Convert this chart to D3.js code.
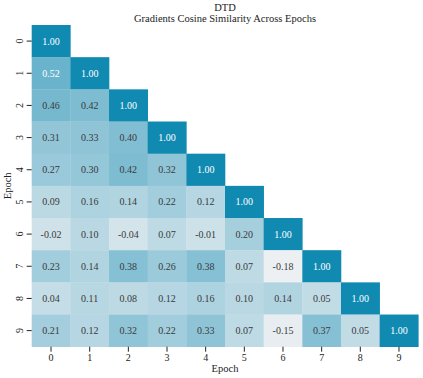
<!DOCTYPE html>
<html>
<head>
<meta charset="utf-8">
<script src="https://cdn.jsdelivr.net/npm/d3@7"></script>
<style>
  body { margin: 0; background: #fff; }
</style>
</head>
<body>
<div class="container"></div>
<script>
// epochs on both axes
const epochs = ['0', '1', '2', '3', '4', '5', '6', '7', '8', '9'];

// lower triangle of the similarity matrix, row by row
const row0 = [1.00];
const row1 = [0.52, 1.00];
const row2 = [0.46, 0.42, 1.00];
const row3 = [0.31, 0.33, 0.40, 1.00];
const row4 = [0.27, 0.30, 0.42, 0.32, 1.00];
const row5 = [0.09, 0.16, 0.14, 0.22, 0.12, 1.00];
const row6 = [-0.02, 0.10, -0.04, 0.07, -0.01, 0.20, 1.00];
const row7 = [0.23, 0.14, 0.38, 0.26, 0.38, 0.07, -0.18, 1.00];
const row8 = [0.04, 0.11, 0.08, 0.12, 0.16, 0.10, 0.14, 0.05, 1.00];
const row9 = [0.21, 0.12, 0.32, 0.22, 0.33, 0.07, -0.15, 0.37, 0.05, 1.00];
const rows = [row0, row1, row2, row3, row4, row5, row6, row7, row8, row9];

const title = 'DTD';
const subtitle = 'Gradients Cosine Similarity Across Epochs';

const width = 423;
const height = 378;
const margin = { top: 25, right: 4.7, bottom: 31.3, left: 31.7 };
const font = "'Liberation Serif', 'Times New Roman', serif";

const cells = [];
rows.forEach((r, i) => {
  r.forEach((v, j) => cells.push({ row: epochs[i], col: epochs[j], value: v }));
});

const svg = d3
  .select('.container')
  .append('svg')
  .attr('width', width)
  .attr('height', height);

const graph = svg
  .append('g')
  .attr('transform', `translate(${margin.left}, ${margin.top})`);

const innerW = width - margin.left - margin.right;
const innerH = height - margin.top - margin.bottom;

const x = d3.scaleBand().domain(epochs).range([0, innerW]);
const y = d3.scaleBand().domain(epochs).range([0, innerH]);

const vmin = d3.min(cells, d => d.value);
const color = d3
  .scaleLinear()
  .domain([vmin, 1])
  .range(['#edf0f2', '#118ab2'])
  .interpolate(d3.interpolateRgb);

// seaborn-like text colour: dark on light cells, white on dark
const luminance = c => {
  const rgb = d3.rgb(c);
  const f = v => {
    v /= 255;
    return v <= 0.03928 ? v / 12.92 : Math.pow((v + 0.055) / 1.055, 2.4);
  };
  return 0.2126 * f(rgb.r) + 0.7152 * f(rgb.g) + 0.0722 * f(rgb.b);
};

graph
  .selectAll('rect.cell')
  .data(cells)
  .enter()
  .append('rect')
  .attr('class', 'cell')
  .attr('x', d => x(d.col))
  .attr('y', d => y(d.row))
  .attr('width', x.bandwidth() + 0.3)
  .attr('height', y.bandwidth() + 0.3)
  .attr('fill', d => color(d.value));

graph
  .selectAll('text.annot')
  .data(cells)
  .enter()
  .append('text')
  .attr('class', 'annot')
  .attr('x', d => x(d.col) + x.bandwidth() / 2)
  .attr('y', d => y(d.row) + y.bandwidth() / 2)
  .attr('dy', '0.35em')
  .attr('text-anchor', 'middle')
  .style('font-size', '10px')
  .attr('fill', d => (luminance(color(d.value)) > 0.408 ? '#3a3a3a' : '#ffffff'))
  .text(d => d.value.toFixed(2));

// x axis
const xAxis = graph
  .append('g')
  .attr('transform', `translate(0, ${innerH})`)
  .call(d3.axisBottom(x).tickSize(5).tickPadding(2));
xAxis.select('.domain').remove();
xAxis.selectAll('line').attr('stroke', '#222').attr('stroke-width', 1);
xAxis.selectAll('text').style('font-size', '10px').attr('fill', '#222');

// y axis, labels vertical like seaborn
const yAxis = graph.append('g').call(d3.axisLeft(y).tickSize(5));
yAxis.select('.domain').remove();
yAxis.selectAll('line').attr('stroke', '#222').attr('stroke-width', 1);
yAxis
  .selectAll('text')
  .attr('x', null)
  .attr('dy', null)
  .attr('text-anchor', 'middle')
  .attr('transform', 'translate(-9, 0) rotate(-90)')
  .style('font-size', '10px')
  .attr('fill', '#222');

// axis titles
graph
  .append('text')
  .attr('x', innerW / 2)
  .attr('y', innerH + 25)
  .attr('text-anchor', 'middle')
  .style('font-size', '10.5px')
  .attr('fill', '#222')
  .text('Epoch');

graph
  .append('text')
  .attr('transform', `translate(${11 - margin.left}, ${innerH / 2}) rotate(-90)`)
  .attr('text-anchor', 'middle')
  .style('font-size', '10.5px')
  .attr('fill', '#222')
  .text('Epoch');

// title
svg
  .append('text')
  .attr('x', margin.left + innerW / 2)
  .attr('y', 10.7)
  .attr('text-anchor', 'middle')
  .style('font-size', '10.5px')
  .attr('fill', '#222')
  .text(title);

svg
  .append('text')
  .attr('x', margin.left + innerW / 2)
  .attr('y', 21.5)
  .attr('text-anchor', 'middle')
  .style('font-size', '10.5px')
  .attr('fill', '#222')
  .text(subtitle);

svg.selectAll('text').style('font-family', font);
</script>
</body>
</html>
